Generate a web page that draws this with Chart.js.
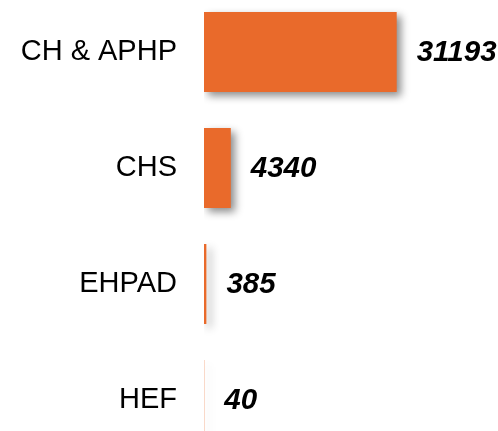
<!DOCTYPE html>
<html>
<head>
<meta charset="utf-8">
<script src="https://cdn.jsdelivr.net/npm/chart.js@4"></script>
<style>
  html, body { margin: 0; padding: 0; background: #fff; overflow: hidden; }
  #wrap { position: absolute; left: 0; top: -6px; width: 498px; height: 464px; }
</style>
</head>
<body>
<div id="wrap"><canvas id="barChart"></canvas></div>
<script>
const categories = ["CH & APHP", "CHS", "EHPAD", "HEF"];
const values = [31193, 4340, 385, 40];
const barColor = "#E96A2B";

// ombre portée des barres
const shadowPlugin = {
  id: "barShadow",
  beforeDatasetDraw(chart) {
    const ctx = chart.ctx;
    ctx.save();
    ctx.shadowColor = "rgba(0, 0, 0, 0.45)";
    ctx.shadowBlur = 8;
    ctx.shadowOffsetX = 4;
    ctx.shadowOffsetY = 4;
  },
  afterDatasetDraw(chart) {
    chart.ctx.restore();
  },
};

// valeurs à droite des barres
const valueLabels = {
  id: "valueLabels",
  afterDatasetsDraw(chart) {
    const ctx = chart.ctx;
    const meta = chart.getDatasetMeta(0);
    ctx.save();
    ctx.font = "italic bold 29.5px 'Liberation Sans', Arial, sans-serif";
    ctx.fillStyle = "#000";
    ctx.textAlign = "left";
    ctx.textBaseline = "middle";
    meta.data.forEach((bar, i) => {
      ctx.fillText(String(values[i]), bar.x + 20, bar.y + 1);
    });
    ctx.restore();
  },
};

const ctx = document.getElementById("barChart").getContext("2d");
new Chart(ctx, {
  type: "bar",
  data: {
    labels: categories,
    datasets: [
      {
        data: values,
        backgroundColor: barColor,
        borderWidth: 0,
        categoryPercentage: 1,
        barPercentage: 0.69,
      },
    ],
  },
  options: {
    indexAxis: "y",
    responsive: true,
    maintainAspectRatio: false,
    animation: false,
    layout: { padding: { left: 0, right: 16, top: 0, bottom: 0 } },
    plugins: {
      legend: { display: false },
      tooltip: { enabled: false },
    },
    scales: {
      x: { display: false, min: 0, max: 45000 },
      y: {
        grid: { display: false, drawTicks: false },
        border: { display: false },
        ticks: {
          color: "#000",
          padding: 27,
          font: { family: "'Liberation Sans', Arial, sans-serif", size: 29 },
        },
        afterFit: (scale) => {
          scale.width = 204;
          scale.paddingTop = 0;
          scale.paddingBottom = 0;
        },
      },
    },
  },
  plugins: [shadowPlugin, valueLabels],
});
</script>
</body>
</html>
